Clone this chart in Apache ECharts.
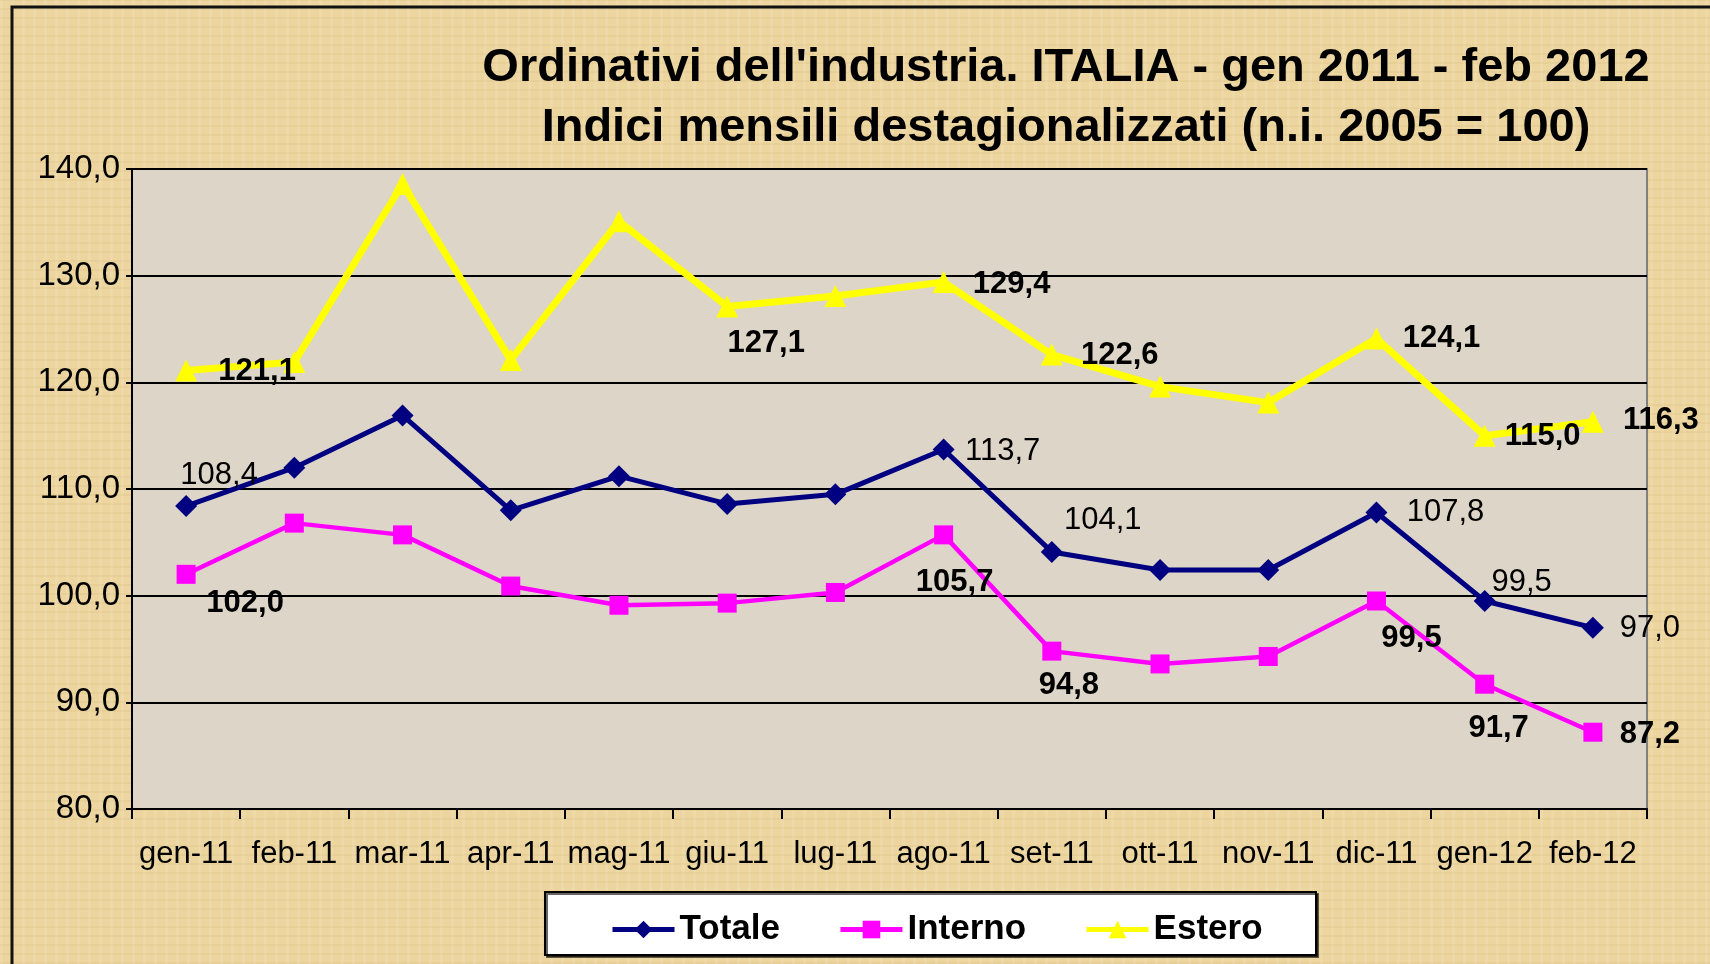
<!DOCTYPE html>
<html>
<head>
<meta charset="utf-8">
<script src="https://cdn.jsdelivr.net/npm/echarts@6/dist/echarts.min.js"></script>
<style>
html, body { margin: 0; padding: 0; }
body {
	width: 1710px; height: 964px; overflow: hidden;
	background-color: #ecd59e;
	background-image:
		repeating-linear-gradient(90deg, rgba(255,255,255,0.10) 0 3px, rgba(0,0,0,0) 3px 11px),
		repeating-linear-gradient(0deg, rgba(160,120,40,0.07) 0 2px, rgba(0,0,0,0) 2px 9px);
}
#chart { width: 1710px; height: 964px; }
</style>
</head>
<body>
<div id="chart"></div>
<script>
var months = ['gen-11', 'feb-11', 'mar-11', 'apr-11', 'mag-11', 'giu-11', 'lug-11',
	'ago-11', 'set-11', 'ott-11', 'nov-11', 'dic-11', 'gen-12', 'feb-12'];

var totale = [108.4, 112.0, 116.9, 108.0, 111.2, 108.6, 109.5, 113.7, 104.1, 102.4, 102.4, 107.8, 99.5, 97.0];
var interno = [102.0, 106.8, 105.7, 100.9, 99.1, 99.3, 100.3, 105.7, 94.8, 93.6, 94.3, 99.5, 91.7, 87.2];
var estero = [121.1, 121.9, 138.6, 122.1, 135.1, 127.1, 128.1, 129.4, 122.6, 119.6, 118.1, 124.1, 115.0, 116.3];

var yTicks = ['80,0', '90,0', '100,0', '110,0', '120,0', '130,0', '140,0'];

// where the value labels sit, relative to the point (index: [dx, dy])
var totaleLabels = { 0: [33, -31], 7: [59, 2], 8: [51, -31], 11: [69, 0], 12: [37, -19], 13: [57, 1] };
var internoLabels = { 0: [59, 29], 7: [11, 48], 8: [17, 34], 11: [35, 37], 12: [14, 44], 13: [57, 2] };
var esteroLabels = { 0: [71, 1], 5: [39, 37], 7: [68, 2], 8: [68, 1], 11: [65, 0], 12: [58, 1], 13: [68, -1] };

function fmt(v) {
	return v.toFixed(1).replace('.', ',');
}

function withLabels(values, places, bold) {
	return values.map(function (v, i) {
		var p = places[i];
		if (!p) return v;
		return {
			value: v,
			label: {
				show: true,
				position: 'inside',
				offset: p,
				formatter: fmt(v),
				color: '#000',
				fontSize: 31,
				fontWeight: bold ? 'bold' : 'normal',
				fontFamily: 'Liberation Sans, Arial, sans-serif'
			}
		};
	});
}

var chart = echarts.init(document.getElementById('chart'));

var option = {
	backgroundColor: 'transparent',
	animation: false,
	textStyle: { fontFamily: 'Liberation Sans, Arial, sans-serif' },
	title: {
		text: "Ordinativi dell'industria. ITALIA - gen 2011 - feb 2012\nIndici mensili destagionalizzati (n.i. 2005 = 100)",
		left: 1061,
		top: 33,
		textAlign: 'center',
		textStyle: {
			fontSize: 47,
			fontWeight: 'bold',
			color: '#000',
			lineHeight: 60
		}
	},
	graphic: [
		{
			type: 'rect',
			shape: { x: 12, y: 7, width: 1720, height: 980 },
			style: { fill: 'transparent', stroke: '#111', lineWidth: 3 },
			silent: true
		},
		{
			type: 'rect',
			shape: { x: 545, y: 892, width: 771, height: 63 },
			style: { fill: '#fff', stroke: '#000', lineWidth: 2, shadowColor: 'rgba(0,0,0,0.6)', shadowOffsetX: 2, shadowOffsetY: 2 },
			z: 0,
			silent: true
		}
	],
	legend: {
		data: ['Totale', 'Interno', 'Estero'],
		left: 605,
		top: 907,
		itemWidth: 62,
		itemHeight: 22,
		itemGap: 58,
		z: 10,
		lineStyle: { width: 5 },
		textStyle: { fontSize: 35, fontWeight: 'bold', color: '#000' }
	},
	grid: {
		left: 132,
		right: 63,
		top: 169,
		bottom: 155,
		show: true,
		backgroundColor: '#ddd5c7',
		borderColor: '#808080',
		borderWidth: 2
	},
	xAxis: {
		type: 'category',
		data: months,
		boundaryGap: true,
		axisLine: { lineStyle: { color: '#000', width: 2 } },
		axisTick: { show: true, length: 10, lineStyle: { color: '#000', width: 2 } },
		axisLabel: { fontSize: 31, color: '#000', margin: 30, interval: 0 }
	},
	yAxis: {
		type: 'value',
		min: 80,
		max: 140,
		interval: 10,
		axisLine: { show: true, lineStyle: { color: '#000', width: 2 } },
		axisTick: { show: true, length: 6, lineStyle: { color: '#000', width: 2 } },
		splitLine: { lineStyle: { color: '#000', width: 2 } },
		axisLabel: {
			fontSize: 33,
			color: '#000',
			margin: 12,
			formatter: function (v) { return yTicks[(v - 80) / 10]; }
		}
	},
	series: [
		{
			name: 'Totale',
			type: 'line',
			data: withLabels(totale, totaleLabels, false),
			symbol: 'diamond',
			symbolSize: 22,
			lineStyle: { color: '#000080', width: 5 },
			itemStyle: { color: '#000080' },
			z: 4
		},
		{
			name: 'Interno',
			type: 'line',
			data: withLabels(interno, internoLabels, true),
			symbol: 'rect',
			symbolSize: 19,
			lineStyle: { color: '#ff00ff', width: 4.5 },
			itemStyle: { color: '#ff00ff' },
			z: 3
		},
		{
			name: 'Estero',
			type: 'line',
			data: withLabels(estero, esteroLabels, true),
			symbol: 'triangle',
			symbolSize: 22,
			lineStyle: { color: '#ffff00', width: 7 },
			itemStyle: { color: '#ffff00' },
			z: 2
		}
	]
};

chart.setOption(option);
</script>
</body>
</html>
